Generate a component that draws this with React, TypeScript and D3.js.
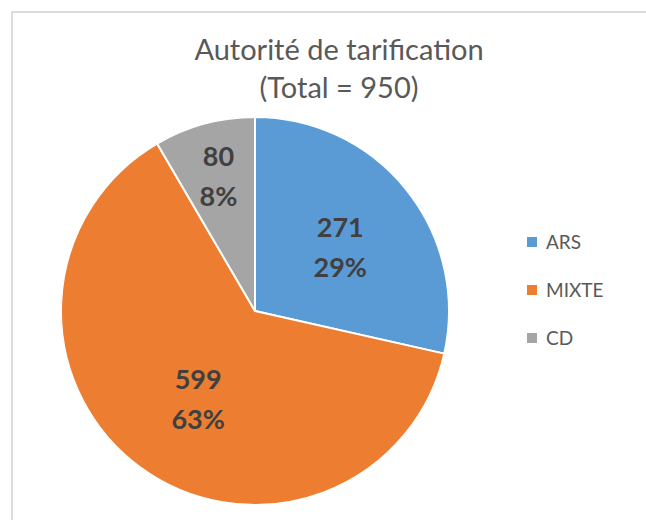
import React, { useEffect, useRef } from 'react';
import * as d3 from 'd3';

const categories = ['ARS', 'MIXTE', 'CD'];
const values = [271, 599, 80];
const percents = ['29%', '63%', '8%'];
const colors = ['#5B9BD5', '#ED7D31', '#A5A5A5'];
const titleLines = ['Autorité de tarification', '(Total = 950)'];

export default function App() {
  const svgRef = useRef<SVGSVGElement>(null);

  useEffect(() => {
    const width = 646;
    const height = 520;
    const radius = 194;
    const cx = 255;
    const cy = 311;

    const svg = d3.select(svgRef.current).attr('width', width).attr('height', height);
    svg.selectAll('*').remove();

    // chart frame (only top and left edges visible)
    svg
      .append('rect')
      .attr('x', 12)
      .attr('y', 12)
      .attr('width', 700)
      .attr('height', 600)
      .attr('fill', 'white')
      .attr('stroke', '#dcdcdc')
      .attr('stroke-width', 2);

    // title
    const title = svg
      .append('text')
      .attr('x', 339)
      .attr('y', 60)
      .attr('text-anchor', 'middle')
      .attr('fill', '#595959')
      .style('font-family', 'Lato, "Open Sans", sans-serif')
      .style('font-size', '29px');
    titleLines.forEach((line, i) => {
      title
        .append('tspan')
        .attr('x', 339)
        .attr('dy', i === 0 ? 0 : 38)
        .text(line);
    });

    const pie = d3
      .pie<number>()
      .sort(null)
      .value((d) => d);
    const arcs = pie(values);

    const arc = d3.arc<d3.PieArcDatum<number>>().innerRadius(0).outerRadius(radius);

    const g = svg.append('g').attr('transform', `translate(${cx},${cy})`);

    g.selectAll('path')
      .data(arcs)
      .enter()
      .append('path')
      .attr('d', arc)
      .attr('fill', (_, i) => colors[i])
      .attr('stroke', 'white')
      .attr('stroke-width', 2)
      .attr('stroke-linejoin', 'round');

    // label placement, Excel "best fit" style
    const labelRatio = [0.55, 0.54, 0.72];
    const labelAngleShift = [0.03, -0.058, 0];
    arcs.forEach((a, i) => {
      const mid = (a.startAngle + a.endAngle) / 2 + labelAngleShift[i];
      const r = radius * labelRatio[i];
      const x = r * Math.sin(mid);
      const y = -r * Math.cos(mid);
      const t = g
        .append('text')
        .attr('text-anchor', 'middle')
        .attr('fill', '#404040')
        .style('font-family', 'Lato, "Open Sans", sans-serif')
        .style('font-weight', 'bold')
        .style('font-size', '27px');
      t.append('tspan').attr('x', x).attr('y', y - 10).text(String(values[i]));
      t.append('tspan').attr('x', x).attr('y', y + 30).text(percents[i]);
    });

    // legend
    const legend = svg.append('g').attr('transform', 'translate(527,242)');
    categories.forEach((c, i) => {
      const row = legend.append('g').attr('transform', `translate(0,${i * 48})`);
      row
        .append('rect')
        .attr('x', 0)
        .attr('y', -5)
        .attr('width', 10)
        .attr('height', 10)
        .attr('fill', colors[i]);
      row
        .append('text')
        .attr('x', 19)
        .attr('y', 6.5)
        .attr('fill', '#595959')
        .style('font-family', 'Lato, "Open Sans", sans-serif')
        .style('font-size', '19px')
        .text(c);
    });
  }, []);

  return (
    <svg
      ref={svgRef}
      style={{ position: 'absolute', left: 0, top: 0, display: 'block' }}
    />
  );
}
